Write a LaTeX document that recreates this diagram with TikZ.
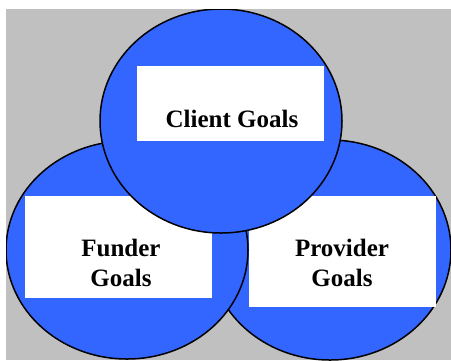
\documentclass[tikz,border=0pt]{standalone}
\usepackage{fontspec}
\setmainfont{Liberation Serif}
\definecolor{bg}{HTML}{C0C0C0}
\definecolor{venn}{HTML}{3366FF}
\tikzset{
  vennset/.style={fill=venn,draw=black,line width=1.5bp},
  labelbox/.style={fill=white,draw=none,inner sep=0pt,anchor=north west},
  goaltext/.style={font=\fontsize{25bp}{30bp}\selectfont\bfseries,inner sep=0pt,anchor=base}
}
\begin{document}
\begin{tikzpicture}[x=1bp,y=-1bp]
\useasboundingbox (0,0) rectangle (451,360);
\fill[bg] (6,9) rectangle (451,360);
\begin{scope}
\clip (6,9) rectangle (451,360);
% right circle and its box
\draw[vennset] (330,250) ellipse [x radius=121bp, y radius=110bp];
\node[labelbox,minimum width=187bp,minimum height=111bp] (pbox) at (249,196) {};
% left circle and its box
\draw[vennset] (127,250) ellipse [x radius=121bp, y radius=109bp];
\node[labelbox,minimum width=187bp,minimum height=102bp] (fbox) at (25,196) {};
% top circle and its box
\draw[vennset] (221,121) ellipse [x radius=121bp, y radius=112bp];
\node[labelbox,minimum width=187bp,minimum height=75bp] (cbox) at (137,66) {};
\end{scope}
\node[goaltext] (client) at (232,127) {Client Goals};
\node[goaltext] (funder1) at (121,256) {Funder};
\node[goaltext] (funder2) at (121,286) {Goals};
\node[goaltext] (prov1) at (342,256) {Provider};
\node[goaltext] (prov2) at (342,286) {Goals};
\end{tikzpicture}
\end{document}
